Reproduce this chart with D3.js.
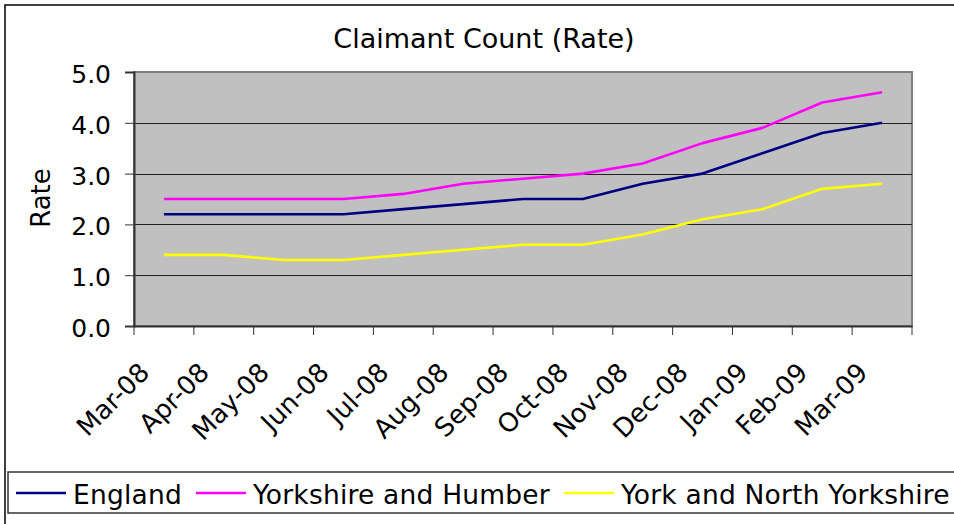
<!DOCTYPE html>
<html>
<head>
<meta charset="utf-8">
<script src="https://cdn.jsdelivr.net/npm/d3@7/dist/d3.min.js"></script>
<style>
  html, body { margin: 0; padding: 0; background: #fff; }
  svg { display: block; font-family: "DejaVu Sans", Verdana, sans-serif; }
</style>
</head>
<body>
<svg id="chart" width="954" height="524"></svg>
<script>
const categories = ["Mar-08","Apr-08","May-08","Jun-08","Jul-08","Aug-08","Sep-08","Oct-08","Nov-08","Dec-08","Jan-09","Feb-09","Mar-09"];
const england = [2.2,2.2,2.2,2.2,2.3,2.4,2.5,2.5,2.8,3.0,3.4,3.8,4.0];
const yorkshireHumber = [2.5,2.5,2.5,2.5,2.6,2.8,2.9,3.0,3.2,3.6,3.9,4.4,4.6];
const yorkNorthYorkshire = [1.4,1.4,1.3,1.3,1.4,1.5,1.6,1.6,1.8,2.1,2.3,2.7,2.8];
const seriesNames = ["England","Yorkshire and Humber","York and North Yorkshire"];
const seriesColors = ["#000080","#FF00FF","#FFFF00"];
const yTicks = [0,1,2,3,4,5];
const title = "Claimant Count (Rate)";
const yTitle = "Rate";

const series = [england, yorkshireHumber, yorkNorthYorkshire].map((v,i)=>({name:seriesNames[i], color:seriesColors[i], values:v}));

const svg = d3.select("#chart");
const plot = {left:134, top:72, right:912, bottom:326};

// outer chart border
svg.append("rect").attr("x",5).attr("y",5).attr("width",1000).attr("height",600)
  .attr("fill","#fff").attr("stroke","#000").attr("stroke-width",1.5);

const x = d3.scaleBand().domain(categories).range([plot.left, plot.right]).paddingInner(0).paddingOuter(0);
const y = d3.scaleLinear().domain([0,5]).range([plot.bottom, plot.top]);

// plot area
svg.append("rect").attr("x",plot.left).attr("y",plot.top)
  .attr("width",plot.right-plot.left).attr("height",plot.bottom-plot.top)
  .attr("fill","#C0C0C0").attr("stroke","#808080").attr("stroke-width",2);

// gridlines
svg.append("g").selectAll("line").data(yTicks.filter(t=>t>0 && t<5)).join("line")
  .attr("x1",plot.left).attr("x2",plot.right)
  .attr("y1",d=>Math.round(y(d))+0.5).attr("y2",d=>Math.round(y(d))+0.5)
  .attr("stroke","#222").attr("stroke-width",1);

// y axis
const yAxis = d3.axisLeft(y).tickValues(yTicks).tickFormat(d3.format(".1f")).tickSize(9).tickPadding(14);
const gy = svg.append("g").attr("transform",`translate(${plot.left},0)`).call(yAxis);
gy.select(".domain").attr("stroke","#333").attr("stroke-width",2);
gy.selectAll(".tick line").attr("stroke","#333");
gy.selectAll(".tick text").attr("font-size","25px").attr("fill","#000")
  .attr("font-family","DejaVu Sans, Verdana, sans-serif").attr("dy","0.42em");

// x axis
const xAxis = d3.axisBottom(x).tickSize(0).tickFormat("");
const gx = svg.append("g").attr("transform",`translate(0,${plot.bottom})`).call(xAxis);
gx.select(".domain").attr("stroke","#333").attr("stroke-width",2);
// boundary ticks
const bounds = categories.map(c=>x(c)).concat([x(categories[categories.length-1])+x.bandwidth()]);
gx.append("g").selectAll("line").data(bounds).join("line")
  .attr("x1",d=>d).attr("x2",d=>d).attr("y1",0).attr("y2",9)
  .attr("stroke","#333").attr("stroke-width",1);
// rotated labels
svg.append("g").selectAll("text").data(categories).join("text")
  .attr("transform",d=>`translate(${x(d)+x.bandwidth()/2-13},374) rotate(-45)`)
  .attr("text-anchor","end").attr("font-size","26px").attr("fill","#000")
  .text(d=>d);

// lines
const line = d3.line().x((d,i)=>x(categories[i])+x.bandwidth()/2).y(d=>y(d));
svg.append("g").selectAll("path").data(series).join("path")
  .attr("d",d=>line(d.values)).attr("fill","none")
  .attr("stroke",d=>d.color).attr("stroke-width",2.6)
  .attr("stroke-linejoin","round");

// title
svg.append("text").attr("x",484).attr("y",48).attr("text-anchor","middle")
  .attr("font-size","27px").attr("fill","#000").text(title);

// y title
svg.append("text").attr("transform","translate(50,198) rotate(-90)")
  .attr("text-anchor","middle").attr("font-size","26px").attr("fill","#000").text(yTitle);

// legend
svg.append("rect").attr("x",8).attr("y",472).attr("width",1000).attr("height",41)
  .attr("fill","#fff").attr("stroke","#333").attr("stroke-width",1.5);
const lg = svg.append("g");
let lx = 16;
series.forEach(s=>{
  lg.append("line").attr("x1",lx).attr("x2",lx+50).attr("y1",493).attr("y2",493)
    .attr("stroke",s.color).attr("stroke-width",2.6);
  const t = lg.append("text").attr("x",lx+57).attr("y",504).attr("font-size","26.5px")
    .attr("letter-spacing","0.2px").attr("fill","#000").text(s.name);
  lx = lx + 57 + t.node().getComputedTextLength() + 14;
});
</script>
</body>
</html>
